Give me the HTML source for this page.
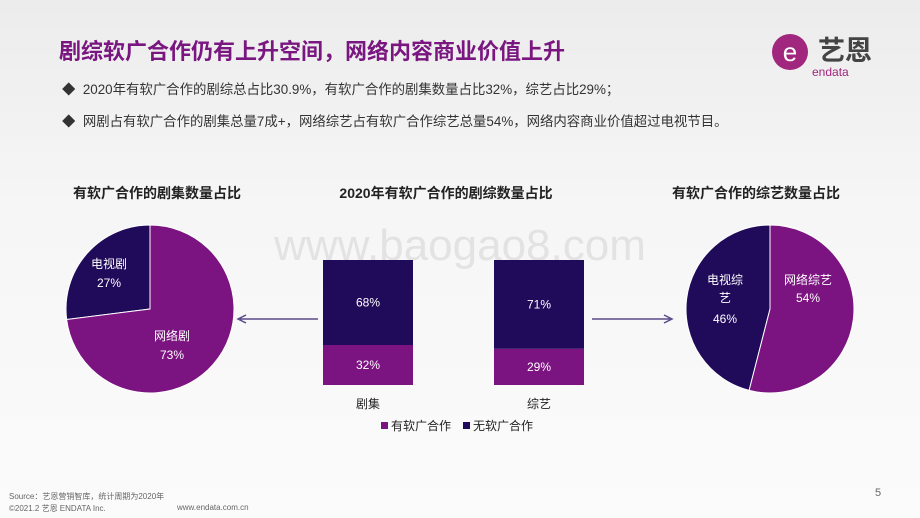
<!DOCTYPE html>
<html><head><meta charset="utf-8"><style>
body{margin:0;width:920px;height:518px;overflow:hidden;font-family:"Liberation Sans","Noto Sans CJK SC",sans-serif;}
#slide{position:relative;width:920px;height:518px;background:linear-gradient(180deg,#ececec 0%,#f6f6f6 40%,#fbfbfb 100%);}
.t{position:absolute;white-space:nowrap;}
</style></head><body>
<div id="slide">
<div class="t" style="left:59px;top:34px;font-size:22px;font-weight:bold;color:#7a1680;">剧综软广合作仍有上升空间，网络内容商业价值上升</div>
<div class="t" style="left:62px;top:78px;font-size:13.4px;color:#333;">◆&nbsp;&nbsp;2020年有软广合作的剧综总占比30.9%，有软广合作的剧集数量占比32%，综艺占比29%；</div>
<div class="t" style="left:62px;top:110px;font-size:13.4px;color:#333;">◆&nbsp;&nbsp;网剧占有软广合作的剧集总量7成+，网络综艺占有软广合作综艺总量54%，网络内容商业价值超过电视节目。</div>
<div class="t" style="left:768px;top:28px;">
 <svg width="130" height="52"><ellipse cx="22" cy="24" rx="18" ry="18" fill="#a0267e"/><text x="22" y="33" text-anchor="middle" font-size="26" fill="#fff" font-family="Liberation Sans">e</text><text x="50" y="32" font-size="27" font-weight="bold" fill="#444" font-family="Noto Sans CJK SC">艺恩</text><text x="44" y="48" font-size="12" fill="#a0267e" font-family="Liberation Sans">endata</text></svg>
</div>
<svg id="chart" width="920" height="518" style="position:absolute;left:0;top:0"></svg>
<div class="t" style="left:9px;top:491px;font-size:8px;color:#666;">Source：艺恩营销智库，统计周期为2020年</div>
<div class="t" style="left:9px;top:503px;font-size:8px;color:#666;">©2021.2 艺恩 ENDATA Inc.</div>
<div class="t" style="left:177px;top:503px;font-size:8px;color:#666;">www.endata.com.cn</div>
<div class="t" style="left:875px;top:487px;font-size:11px;color:#666;">5</div>
</div>
<script>
const pie1Labels=["电视剧","网络剧"];
const pie1Values=[27,73];
const pie2Labels=["电视综艺","网络综艺"];
const pie2Values=[46,54];
const barCats=["剧集","综艺"];
const barWith=[32,29];
const barWithout=[68,71];
const PURPLE="#7b1380",DARK="#200a5a";
const NS="http://www.w3.org/2000/svg";
const svg=document.getElementById('chart');
function mk(tag,attrs,txt){const e=document.createElementNS(NS,tag);for(const k in attrs)e.setAttribute(k,attrs[k]);if(txt!=null)e.textContent=txt;svg.appendChild(e);return e;}
function txt(x,y,s,size,fill,weight,name){const e=mk('text',{x:x,y:y,'text-anchor':'middle','font-size':size,fill:fill,'font-weight':weight||'normal','font-family':'Liberation Sans, Noto Sans CJK SC, sans-serif'},s);

return e;}
txt(157,198,"有软广合作的剧集数量占比",14,"#222","bold","pie1-title");
txt(446,198,"2020年有软广合作的剧综数量占比",14,"#222","bold","bar-title");
txt(756,198,"有软广合作的综艺数量占比",14,"#222","bold","pie2-title");
txt(460,260,"www.baogao8.com",44,"rgba(190,190,190,0.35)","normal","watermark");
function pie(cx,cy,r,labels,values,name){
 const tot=values.reduce((a,b)=>a+b,0);
 const a0=-Math.PI/2, a1=a0-2*Math.PI*values[0]/tot;
 function pt(a){return [cx+r*Math.cos(a),cy+r*Math.sin(a)];}
 const p0=pt(a0),p1=pt(a1);
 const large0=values[0]/tot>0.5?1:0;
 let s=mk('path',{d:`M${cx},${cy}L${p0[0]},${p0[1]}A${r},${r} 0 ${large0} 0 ${p1[0]},${p1[1]}Z`,fill:DARK,stroke:'#fff','stroke-width':1});
 
 
 s=mk('path',{d:`M${cx},${cy}L${p0[0]},${p0[1]}A${r},${r} 0 ${1-large0} 1 ${p1[0]},${p1[1]}Z`,fill:PURPLE,stroke:'#fff','stroke-width':1});
 
 
}
pie(150,309,84,pie1Labels,pie1Values,"pie1");
txt(109,268,pie1Labels[0],12,"#fff","normal","pie1-label-0");
txt(109,287,pie1Values[0]+"%",12,"#fff","normal","pie1-value-0");
txt(172,340,pie1Labels[1],12,"#fff","normal","pie1-label-1");
txt(172,359,pie1Values[1]+"%",12,"#fff","normal","pie1-value-1");
pie(770,309,84,pie2Labels,pie2Values,"pie2");
txt(725,284,pie2Labels[0].slice(0,3),12,"#fff","normal","pie2-label-0");
txt(725,302,pie2Labels[0].slice(3),12,"#fff","normal","pie2-label-0b");
txt(725,323,pie2Values[0]+"%",12,"#fff","normal","pie2-value-0");
txt(808,284,pie2Labels[1],12,"#fff","normal","pie2-label-1");
txt(808,302,pie2Values[1]+"%",12,"#fff","normal","pie2-value-1");
const barTop=260,barBot=385,barW=90,barXs=[323,494];
function y(v){return barBot-(barBot-barTop)*v/100;}
barCats.forEach((c,i)=>{
 const x=barXs[i];
 let r=mk('rect',{x:x,y:y(barWith[i]),width:barW,height:barBot-y(barWith[i]),fill:PURPLE});
 
 
 r=mk('rect',{x:x,y:y(barWith[i]+barWithout[i]),width:barW,height:y(barWith[i])-y(barWith[i]+barWithout[i]),fill:DARK});
 
 
 txt(x+barW/2,(y(barWith[i])+barBot)/2+4,barWith[i]+"%",12,"#fff","normal","bar-with-value-"+i);
 txt(x+barW/2,(y(barWith[i])+y(100))/2+4,barWithout[i]+"%",12,"#fff","normal","bar-without-value-"+i);
 txt(x+barW/2,408,c,12,"#222","normal","x-label-"+i);
});
let a=mk('path',{d:'M318,319L240,319M246,315L238,319L246,323',stroke:'#5a4a8a','stroke-width':1.5,fill:'none'});


a=mk('path',{d:'M592,319L670,319M664,315L672,319L664,323',stroke:'#5a4a8a','stroke-width':1.5,fill:'none'});


let l=mk('rect',{x:381,y:422,width:7,height:7,fill:PURPLE});


l=mk('text',{x:391,y:430,'font-size':12,fill:'#222','font-family':'Liberation Sans, Noto Sans CJK SC, sans-serif'},'有软广合作');


l=mk('rect',{x:463,y:422,width:7,height:7,fill:DARK});


l=mk('text',{x:473,y:430,'font-size':12,fill:'#222','font-family':'Liberation Sans, Noto Sans CJK SC, sans-serif'},'无软广合作');


</script>
</body></html>
